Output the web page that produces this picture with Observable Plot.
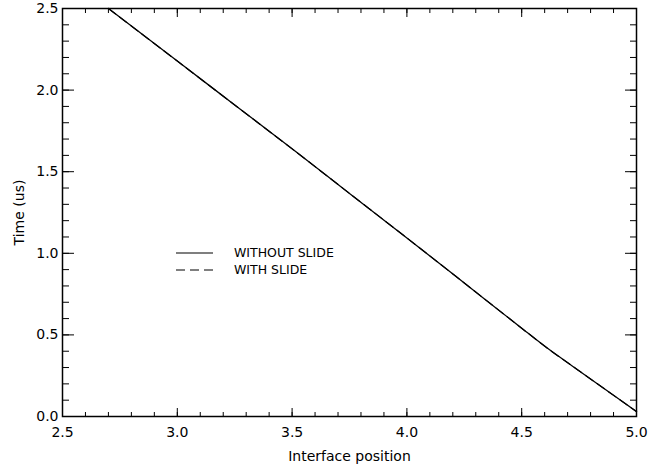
<!DOCTYPE html>
<html>
<head>
<meta charset="utf-8">
<script src="https://cdn.jsdelivr.net/npm/d3@7"></script>
<script src="https://cdn.jsdelivr.net/npm/@observablehq/plot@0.6"></script>
<style>
  html, body { margin: 0; padding: 0; background: #fff; }
  #wrap { position: relative; width: 648px; height: 471px; }
  #legend { position: absolute; left: 0; top: 0; pointer-events: none; }
</style>
</head>
<body>
<div id="wrap"></div>
<script>
// Interface position (x) vs Time in microseconds (y)
const position = [2.70, 3.00, 3.25, 3.50, 3.75, 4.00, 4.25, 4.50, 4.62, 4.72, 4.84, 4.92, 5.00];
const timeWithoutSlide = [2.50, 2.178, 1.909, 1.640, 1.367, 1.094, 0.818, 0.541, 0.41, 0.31, 0.19, 0.11, 0.03];
const timeWithSlide    = [2.50, 2.178, 1.909, 1.640, 1.367, 1.094, 0.818, 0.541, 0.41, 0.31, 0.19, 0.11, 0.03];
const seriesNames = ["WITHOUT SLIDE", "WITH SLIDE"];
const xMajorTicks = [2.5, 3.0, 3.5, 4.0, 4.5, 5.0];
const yMajorTicks = [0.0, 0.5, 1.0, 1.5, 2.0, 2.5];
const xMinorTicks = d3.range(25, 51).map(d => d / 10);
const yMinorTicks = d3.range(0, 26).map(d => d / 10);

const without = position.map((x, i) => ({x, y: timeWithoutSlide[i]}));
const withS = position.map((x, i) => ({x, y: timeWithSlide[i]}));

const font = "DejaVu Sans, sans-serif";
const fmt = d3.format(".1f");

const chart = Plot.plot({
  width: 648,
  height: 471,
  marginLeft: 62,
  marginRight: 12,
  marginTop: 8,
  marginBottom: 55,
  style: {fontFamily: font, fontSize: "14px", color: "#000", background: "#fff"},
  x: {domain: [2.5, 5.0]},
  y: {domain: [0, 2.5]},
  marks: [
    // minor ticks
    Plot.axisX(xMinorTicks, {anchor: "bottom", tickSize: -4, text: null, label: null, strokeWidth: 1}),
    Plot.axisX(xMinorTicks, {anchor: "top", tickSize: -4, text: null, label: null, strokeWidth: 1}),
    Plot.axisY(yMinorTicks, {anchor: "left", tickSize: -7, text: null, label: null, strokeWidth: 1}),
    Plot.axisY(yMinorTicks, {anchor: "right", tickSize: -7, text: null, label: null, strokeWidth: 1}),
    // major ticks
    Plot.axisX(xMajorTicks, {anchor: "bottom", tickSize: -8, tickPadding: 19, tickFormat: fmt,
      label: "Interface position", labelAnchor: "center", labelArrow: "none", labelOffset: 44, fontSize: 14}),
    Plot.axisX(xMajorTicks, {anchor: "top", tickSize: -8, text: null, label: null}),
    Plot.axisY(yMajorTicks, {anchor: "left", tickSize: -12, tickPadding: 16, tickFormat: fmt,
      label: "Time (us)", labelAnchor: "center", labelArrow: "none", labelOffset: 48, fontSize: 14}),
    Plot.axisY(yMajorTicks, {anchor: "right", tickSize: -12, text: null, label: null}),
    Plot.frame({stroke: "#000", strokeWidth: 1.5}),
    Plot.line(withS, {x: "x", y: "y", stroke: "#000", strokeWidth: 1.2, strokeDasharray: "9,5", curve: "monotone-x"}),
    Plot.line(without, {x: "x", y: "y", stroke: "#000", strokeWidth: 1.3, curve: "monotone-x"})
  ]
});
document.getElementById("wrap").appendChild(chart);

// Legend overlay
const legend = d3.select("#wrap").append("svg")
  .attr("id", "legend").attr("width", 648).attr("height", 471);
const styles = [null, "9,5"];
seriesNames.forEach((name, i) => {
  const y = 253 + i * 17;
  legend.append("line").attr("x1", 176).attr("x2", 213).attr("y1", y).attr("y2", y)
    .attr("stroke", "#000").attr("stroke-width", 1.2)
    .attr("stroke-dasharray", styles[i]);
  legend.append("text").attr("x", 234).attr("y", y).attr("dy", "0.35em")
    .attr("font-family", font).attr("font-size", 12.5).attr("fill", "#000")
    .text(name);
});
</script>
</body>
</html>
